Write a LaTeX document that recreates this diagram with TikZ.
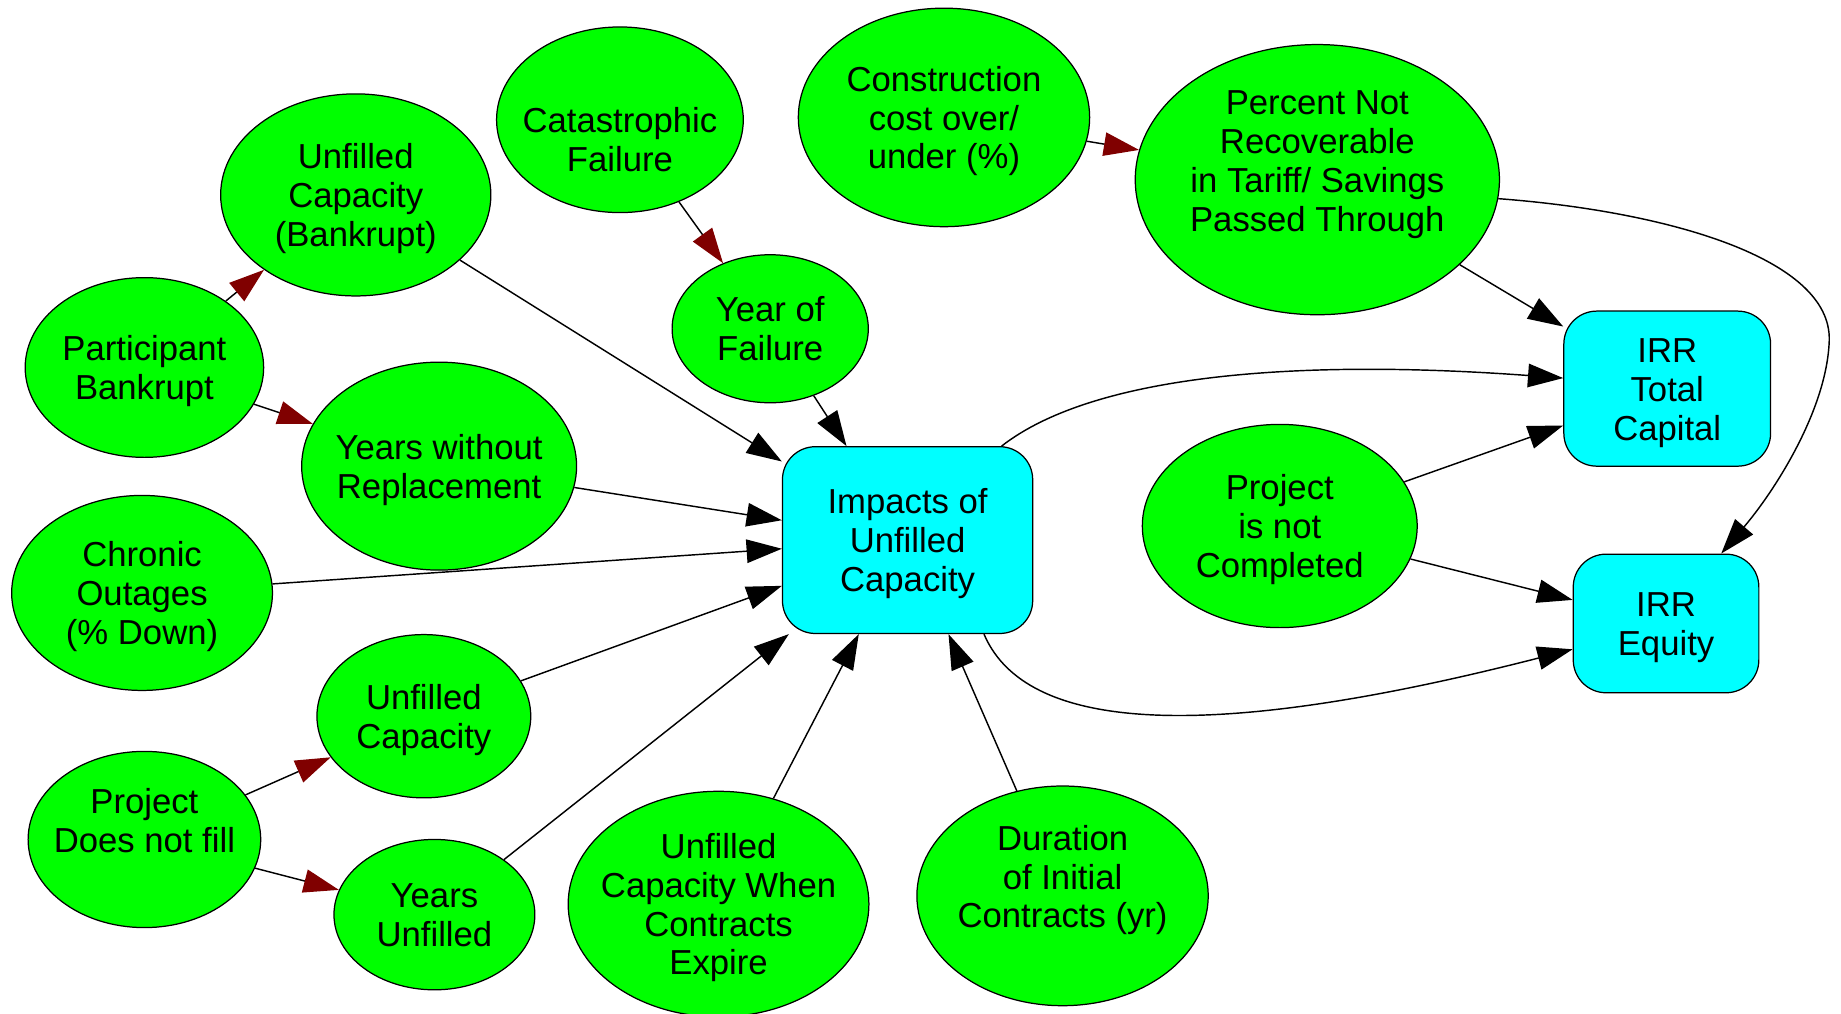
\documentclass[tikz,border=0pt]{standalone}
\usepackage{fontspec}
\setmainfont{Liberation Sans}
\usetikzlibrary{shapes.geometric,arrows.meta,calc}
\definecolor{nodegreen}{RGB}{0,255,0}
\definecolor{nodecyan}{RGB}{0,255,255}
\definecolor{tipred}{RGB}{128,0,0}
% fixed top and bottom extent of every label, so that all labels sit alike
\newcommand\lt{\rule{0pt}{8.1pt}}
\newcommand\lb{\rule[-2pt]{0pt}{2pt}}

\begin{document}
\begin{tikzpicture}[x=0.01cm,y=-0.01cm,
  every node/.style={font=\fontsize{8.4}{9.4}\selectfont, align=center},
  ell/.style={ellipse, draw=black, line width=0.3pt, fill=nodegreen, inner sep=-2cm},
  box/.style={rectangle, rounded corners=0.28cm, draw=black, line width=0.3pt, fill=nodecyan, inner sep=0pt},
  arr/.style={draw=black, line width=0.35pt, -{Triangle[length=0.30cm,width=0.20cm]}},
  redarr/.style={draw=black, line width=0.35pt, -{Triangle[length=0.30cm,width=0.20cm,color=tipred]}},
]
\useasboundingbox (0,0) rectangle (1568,863);

% inputs (green ellipses)
\node[ell, minimum width=2.30cm, minimum height=1.72cm] (ubk)  at (303,166) {\lt Unfilled\\Capacity\\(Bankrupt)\lb};
\node[ell, minimum width=2.10cm, minimum height=1.58cm] (cat)  at (528,102) {\lt\\Catastrophic\\Failure\lb};
\node[ell, minimum width=2.48cm, minimum height=1.86cm] (con)  at (804,100) {\lt Construction\\cost over/\\under (\%)\lb};
\node[ell, minimum width=3.10cm, minimum height=2.30cm] (pnr)  at (1122,153) {\lt Percent Not\\Recoverable\\in Tariff/ Savings\\Passed Through\\\lb};
\node[ell, minimum width=2.03cm, minimum height=1.53cm] (pb)   at (123,313) {\lt Participant\\Bankrupt\lb};
\node[ell, minimum width=2.34cm, minimum height=1.77cm] (ywr)  at (374,397) {\lt Years without\\Replacement\lb};
\node[ell, minimum width=1.67cm, minimum height=1.26cm] (yof)  at (656,280) {\lt Year of\\Failure\lb};
\node[ell, minimum width=2.22cm, minimum height=1.66cm] (chr)  at (121,505) {\lt Chronic\\Outages\\(\% Down)\lb};
\node[ell, minimum width=1.82cm, minimum height=1.39cm] (ucap) at (361,610) {\lt Unfilled\\Capacity\lb};
\node[ell, minimum width=1.98cm, minimum height=1.50cm] (pdnf) at (123,715) {\lt Project\\Does not fill\\\lb};
\node[ell, minimum width=1.71cm, minimum height=1.28cm] (yu)   at (370,779) {\lt Years\\Unfilled\lb};
\node[ell, minimum width=2.56cm, minimum height=1.92cm] (ucw)  at (612,770) {\lt Unfilled\\Capacity When\\Contracts\\Expire\lb};
\node[ell, minimum width=2.48cm, minimum height=1.87cm] (dur)  at (905,763) {\lt Duration\\of Initial\\Contracts (yr)\\\lb};
\node[ell, minimum width=2.34cm, minimum height=1.73cm] (pnc)  at (1090,448) {\lt Project\\is not\\Completed\lb};

% results (cyan boxes)
\node[box, minimum width=2.13cm, minimum height=1.59cm] (imp)  at (773,460) {\lt Impacts of\\Unfilled\\Capacity\lb};
\node[box, minimum width=1.76cm, minimum height=1.32cm] (irrt) at (1420,331) {\lt IRR\\Total\\Capital\lb};
\node[box, minimum width=1.58cm, minimum height=1.18cm] (irre) at (1419,531) {\lt IRR\\Equity\lb};

% dependencies between inputs
\draw[redarr] (pb) -- (ubk);
\draw[redarr] (pb) -- (ywr);
\draw[redarr] (cat) -- (yof);
\draw[redarr] (con) -- (pnr);
\draw[redarr] (pdnf) -- (ucap);
\draw[redarr] (pdnf) -- (yu);

% influences on the unfilled-capacity result
\foreach \s in {ubk,yof,ywr,chr,ucap,yu,ucw,dur}
  \draw[arr] (\s) -- (imp);

% influences on the IRR results
\draw[arr] (pnr) -- (irrt);
\draw[arr] (pnc) -- (irrt);
\draw[arr] (pnc) -- (irre);
\draw[arr] ($(imp.north east)+(-27,0)$) .. controls (930,320) and (1100,305) .. ($(irrt.west)+(0,-9)$);
\draw[arr] ($(imp.south east)+(-42,0)$) .. controls (870,615) and (1000,640) .. ($(irre.west)+(0,22)$);
\draw[arr] (pnr.-6) .. controls (1420,180) and (1560,220) .. (1558,290)
                    .. controls (1556,350) and (1510,420) .. ($(irre.north)+(47,0)$);
\end{tikzpicture}
\end{document}
